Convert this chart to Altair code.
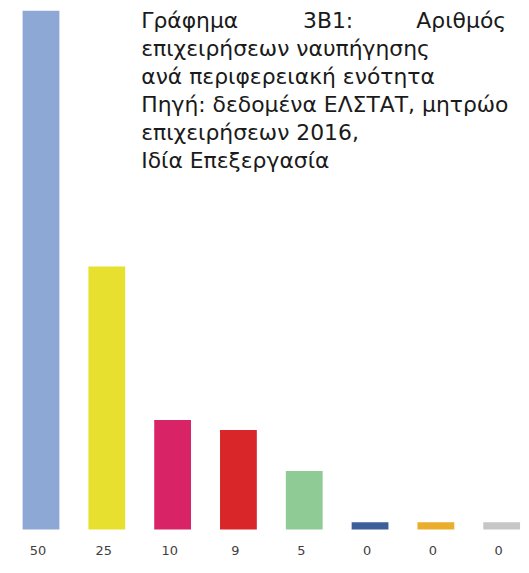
import altair as alt
import pandas as pd

# Data
regions = ["Π1", "Π2", "Π3", "Π4", "Π5", "Π6", "Π7", "Π8"]
values = [50, 25, 10, 9, 5, 0, 0, 0]
colors = ["#8EA8D6", "#E8E02E", "#D82466", "#D92628", "#8FCB95", "#3E6098", "#EAAE2C", "#C6C6C6"]

title_line1 = ["Γράφημα", "3Β1:", "Αριθμός"]
title_rest = [
    "επιχειρήσεων ναυπήγησης",
    "ανά περιφερειακή ενότητα",
    "Πηγή: δεδομένα ΕΛΣΤΑΤ, μητρώο",
    "επιχειρήσεων 2016,",
    "Ιδία Επεξεργασία",
]

df = pd.DataFrame({"region": regions, "value": values, "label": [str(v) for v in values]})

W, H = 516, 523
FONT = "DejaVu Sans"
FS = 22
LH = 28
Y0 = 19
BASE = -0.72

xenc = alt.X("region:N", sort=regions, axis=None,
             scale=alt.Scale(paddingInner=0.441, paddingOuter=0.118, align=0.94))

bars = alt.Chart(df).mark_bar().encode(
    x=xenc,
    y=alt.Y("value:Q", axis=None, scale=alt.Scale(domain=[BASE, 50.1], nice=False, zero=False)),
    y2=alt.datum(BASE),
    color=alt.Color("region:N", sort=regions, legend=None,
                    scale=alt.Scale(domain=regions, range=colors)),
)

labels = alt.Chart(df).mark_text(font=FONT, fontSize=13, color="#404040", baseline="middle", dx=-3).encode(
    x=xenc,
    y=alt.value(H + 22),
    text="label:N",
)

base = alt.Chart(pd.DataFrame({"t": [0]}))
style = dict(font=FONT, fontSize=FS, color="#1a1a1a", baseline="alphabetic")
t1a = base.mark_text(align="left", **style).encode(
    x=alt.value(134), y=alt.value(Y0), text=alt.value(title_line1[0]))
t1b = base.mark_text(align="center", **style).encode(
    x=alt.value(322), y=alt.value(Y0), text=alt.value(title_line1[1]))
t1c = base.mark_text(align="right", **style).encode(
    x=alt.value(501), y=alt.value(Y0), text=alt.value(title_line1[2]))
trest = base.mark_text(align="left", lineHeight=LH, **style).encode(
    x=alt.value(134), y=alt.value(Y0 + LH), text=alt.value(title_rest))

chart = alt.layer(bars, labels, t1a, t1b, t1c, trest).properties(
    width=W, height=H, padding=0
).configure_view(stroke=None)

chart.save("out.html", embed_options={"renderer": "svg", "actions": False})
